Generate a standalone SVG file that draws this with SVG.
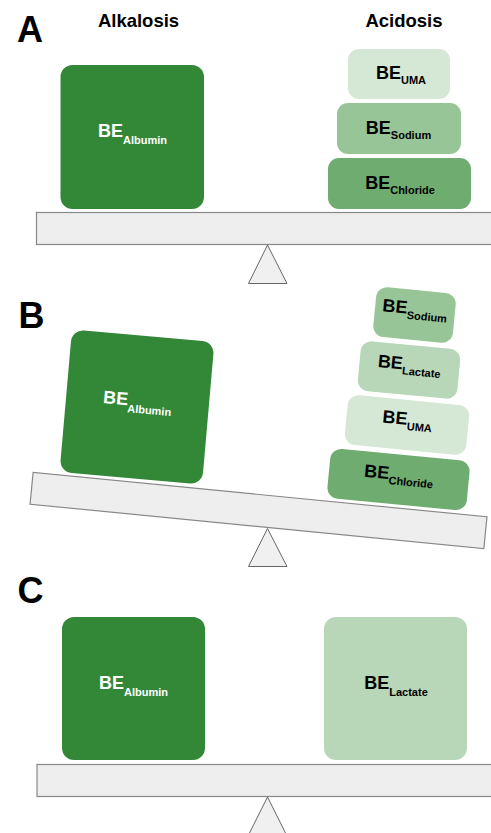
<svg xmlns="http://www.w3.org/2000/svg" width="491" height="833" viewBox="0 0 491 833">
<style>
text{font-family:"Liberation Sans",Arial,sans-serif;font-weight:bold}
.panel{font-size:36px;fill:#000}
.head{font-size:18.5px;fill:#000;text-anchor:middle}
.lbl{font-size:18px;text-anchor:middle}
.sub{font-size:11px}
.w{fill:#ffffff}
.k{fill:#000000}
.beam{fill:#eeeeee;stroke:#888888;stroke-width:1.2}
.tri{fill:#f0f0f0;stroke:#666666;stroke-width:1}
.alb{fill:#338838}
.chl{fill:#6fac70}
.sod{fill:#98c598}
.uma{fill:#d5e7d5}
.lac{fill:#b8d6b8}
</style>

<!-- Panel A -->
<g id="panelA">
  <text class="panel" x="17" y="42">A</text>
  <text class="head" x="138.5" y="27">Alkalosis</text>
  <text class="head" x="404" y="27">Acidosis</text>
  <g id="A-beam">
    <rect class="beam" x="36.5" y="212.5" width="462" height="32"/>
    <polygon class="tri" points="267.5,245 248.5,283.5 287,283.5"/>
  </g>
  <g id="A-albumin">
    <rect class="alb" x="60.5" y="65" width="143.5" height="144" rx="12"/>
    <text class="lbl w" x="132.5" y="137">BE<tspan class="sub" dy="7">Albumin</tspan></text>
  </g>
  <g id="A-uma">
    <rect class="uma" x="348" y="49" width="102" height="50" rx="11"/>
    <text class="lbl k" x="401" y="78.5">BE<tspan class="sub" dy="5">UMA</tspan></text>
  </g>
  <g id="A-sodium">
    <rect class="sod" x="337" y="103" width="124" height="51" rx="11"/>
    <text class="lbl k" x="398.5" y="133.5">BE<tspan class="sub" dy="5">Sodium</tspan></text>
  </g>
  <g id="A-chloride">
    <rect class="chl" x="328" y="158" width="143" height="51" rx="11"/>
    <text class="lbl k" x="400" y="188.5">BE<tspan class="sub" dy="5">Chloride</tspan></text>
  </g>
</g>

<!-- Panel B -->
<g id="panelB">
  <text class="panel" x="18.5" y="328">B</text>
  <g id="B-beam">
    <rect class="beam" x="-228" y="-16" width="456" height="32" transform="translate(258.5,510.5) rotate(5.6)"/>
    <polygon class="tri" points="267.5,528.5 248.5,566.5 287,566.5"/>
  </g>
  <g id="B-albumin" transform="translate(137,407) rotate(5)">
    <rect class="alb" x="-71.5" y="-71.5" width="143" height="143" rx="12"/>
    <text class="lbl w" x="0" y="-1">BE<tspan class="sub" dy="7">Albumin</tspan></text>
  </g>
  <g id="B-sodium" transform="translate(414.5,315) rotate(5.5)">
    <rect class="sod" x="-40" y="-25" width="80" height="50" rx="11"/>
    <text class="lbl k" x="0" y="-0.5">BE<tspan class="sub" dy="5">Sodium</tspan></text>
  </g>
  <g id="B-lactate" transform="translate(409,370) rotate(5.5)">
    <rect class="lac" x="-50" y="-25" width="100" height="50" rx="11"/>
    <text class="lbl k" x="0" y="0">BE<tspan class="sub" dy="5">Lactate</tspan></text>
  </g>
  <g id="B-uma" transform="translate(407,425) rotate(5.5)">
    <rect class="uma" x="-61" y="-25" width="122" height="50" rx="11"/>
    <text class="lbl k" x="0" y="0">BE<tspan class="sub" dy="5">UMA</tspan></text>
  </g>
  <g id="B-chloride" transform="translate(398.5,479.5) rotate(5.5)">
    <rect class="chl" x="-70" y="-25" width="140" height="50" rx="11"/>
    <text class="lbl k" x="0" y="0.5">BE<tspan class="sub" dy="5">Chloride</tspan></text>
  </g>
</g>

<!-- Panel C -->
<g id="panelC">
  <text class="panel" x="17.5" y="603">C</text>
  <g id="C-beam">
    <rect class="beam" x="37" y="764.5" width="462" height="32"/>
    <polygon class="tri" points="267.5,797 248,836 287,836"/>
  </g>
  <g id="C-albumin">
    <rect class="alb" x="62" y="617" width="143" height="143" rx="12"/>
    <text class="lbl w" x="133.5" y="689">BE<tspan class="sub" dy="7">Albumin</tspan></text>
  </g>
  <g id="C-lactate">
    <rect class="lac" x="324" y="617" width="143" height="143" rx="12"/>
    <text class="lbl k" x="396" y="689">BE<tspan class="sub" dy="7">Lactate</tspan></text>
  </g>
</g>
</svg>
